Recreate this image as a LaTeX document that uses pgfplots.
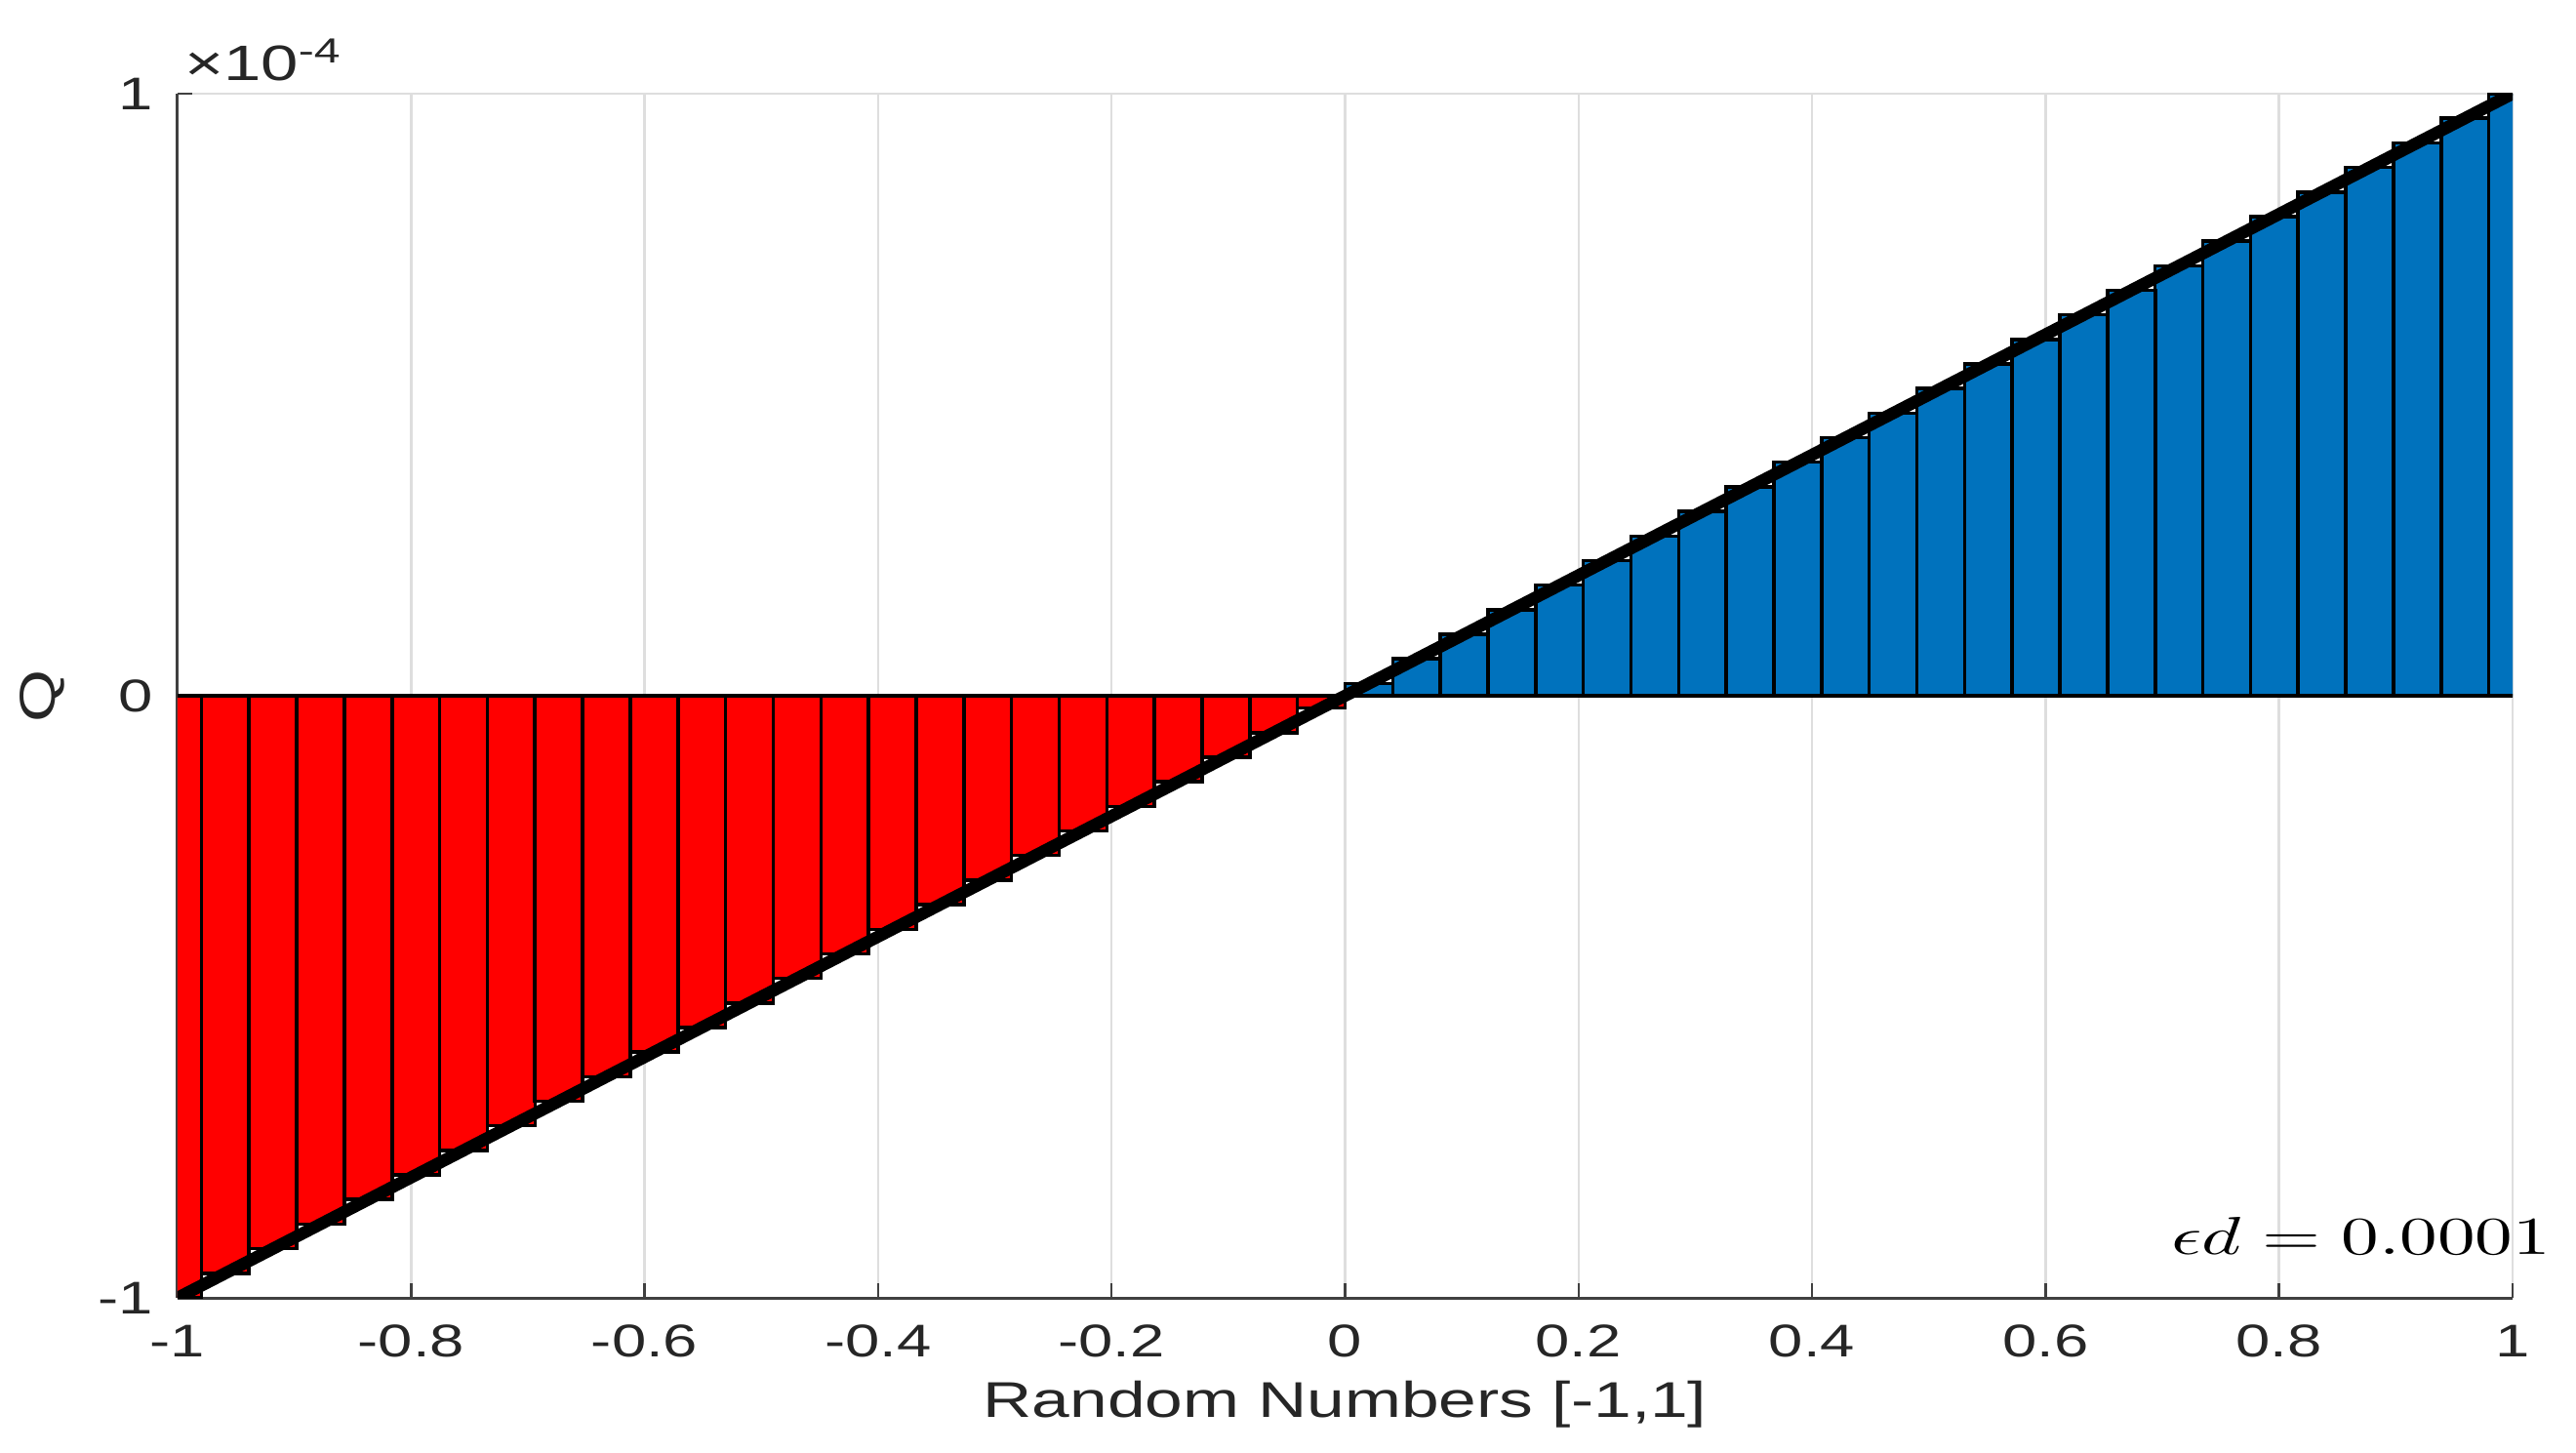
\documentclass[border=0pt]{standalone}
\usepackage{fontspec}
\setmainfont[FakeStretch=1.35]{Liberation Sans}
\usepackage{graphicx}
\usepackage{pgfplots}
\pgfplotsset{compat=1.18}
\usepackage{pgfplotstable}
\definecolor{mRed}{RGB}{255,0,0}
\definecolor{mBlue}{RGB}{0,114,189}
\definecolor{axgray}{RGB}{64,64,64}
\definecolor{gridgray}{RGB}{222,222,222}
\definecolor{txtgray}{RGB}{38,38,38}

% Q (in units of 1e-4) at 50 equally spaced points in [-1,1]
\pgfplotstableread{
x q
-1.0000 -1.0000
-0.9592 -0.9592
-0.9184 -0.9184
-0.8776 -0.8776
-0.8367 -0.8367
-0.7959 -0.7959
-0.7551 -0.7551
-0.7143 -0.7143
-0.6735 -0.6735
-0.6327 -0.6327
-0.5918 -0.5918
-0.5510 -0.5510
-0.5102 -0.5102
-0.4694 -0.4694
-0.4286 -0.4286
-0.3878 -0.3878
-0.3469 -0.3469
-0.3061 -0.3061
-0.2653 -0.2653
-0.2245 -0.2245
-0.1837 -0.1837
-0.1429 -0.1429
-0.1020 -0.1020
-0.0612 -0.0612
-0.0204 -0.0204
0.0204 0.0204
0.0612 0.0612
0.1020 0.1020
0.1429 0.1429
0.1837 0.1837
0.2245 0.2245
0.2653 0.2653
0.3061 0.3061
0.3469 0.3469
0.3878 0.3878
0.4286 0.4286
0.4694 0.4694
0.5102 0.5102
0.5510 0.5510
0.5918 0.5918
0.6327 0.6327
0.6735 0.6735
0.7143 0.7143
0.7551 0.7551
0.7959 0.7959
0.8367 0.8367
0.8776 0.8776
0.9184 0.9184
0.9592 0.9592
1.0000 1.0000
}\qdata

\begin{document}
\begin{tikzpicture}
\begin{axis}[
  name=ax,
  scale only axis,
  width=478.6pt, height=246.8pt,
  xmin=-1, xmax=1, ymin=-1, ymax=1,
  axis lines*=left,
  axis line style={axgray, line width=0.6pt},
  xtick={-1,-0.8,-0.6,-0.4,-0.2,0,0.2,0.4,0.6,0.8,1},
  ytick={-1,0,1},
  tick align=inside,
  major tick length=3pt,
  tick style={axgray, line width=0.5pt},
  grid=major,
  major grid style={gridgray, line width=0.5pt},
  /pgf/number format/assume math mode=true,
  ticklabel style={font=\fontsize{9.4}{11}\selectfont, text=txtgray},
  xticklabel style={yshift=-2pt},
  yticklabel style={xshift=-1.5pt},
  xlabel={Random Numbers [-1,1]},
  ylabel={Q},
  label style={font=\fontsize{10.3}{12}\selectfont, text=txtgray},
  xlabel style={yshift=2pt},
  ylabel style={yshift=0pt},
]
\addplot[ybar, bar width=0.040816, bar shift=0pt, fill=mRed, draw=black,
  line width=0.7pt, restrict x to domain=-1.1:0] table[x=x, y=q] {\qdata};
\addplot[ybar, bar width=0.040816, bar shift=0pt, fill=mBlue, draw=black,
  line width=0.7pt, restrict x to domain=0:1.1] table[x=x, y=q] {\qdata};
\addplot[black, line width=2.5pt, no marks, line join=round] table[x=x, y=q] {\qdata};
\end{axis}
\node[anchor=base west, inner sep=0pt, text=txtgray, font=\fontsize{10.2}{12}\selectfont]
  at ([shift={(1.2pt,2.6pt)}]ax.north west) {×10\textsuperscript{-4}};
\node[anchor=base east, inner sep=0pt]
  at ([shift={(8pt,9pt)}]ax.south east)
  {\scalebox{1.41}[1]{\fontsize{11}{13}\selectfont$\epsilon d = 0.0001$}};
\pgfresetboundingbox
\path[use as bounding box] ([shift={(-36.4pt,-31.6pt)}]ax.south west)
  rectangle ([shift={(491.6pt,266pt)}]ax.south west);
\end{tikzpicture}
\end{document}
